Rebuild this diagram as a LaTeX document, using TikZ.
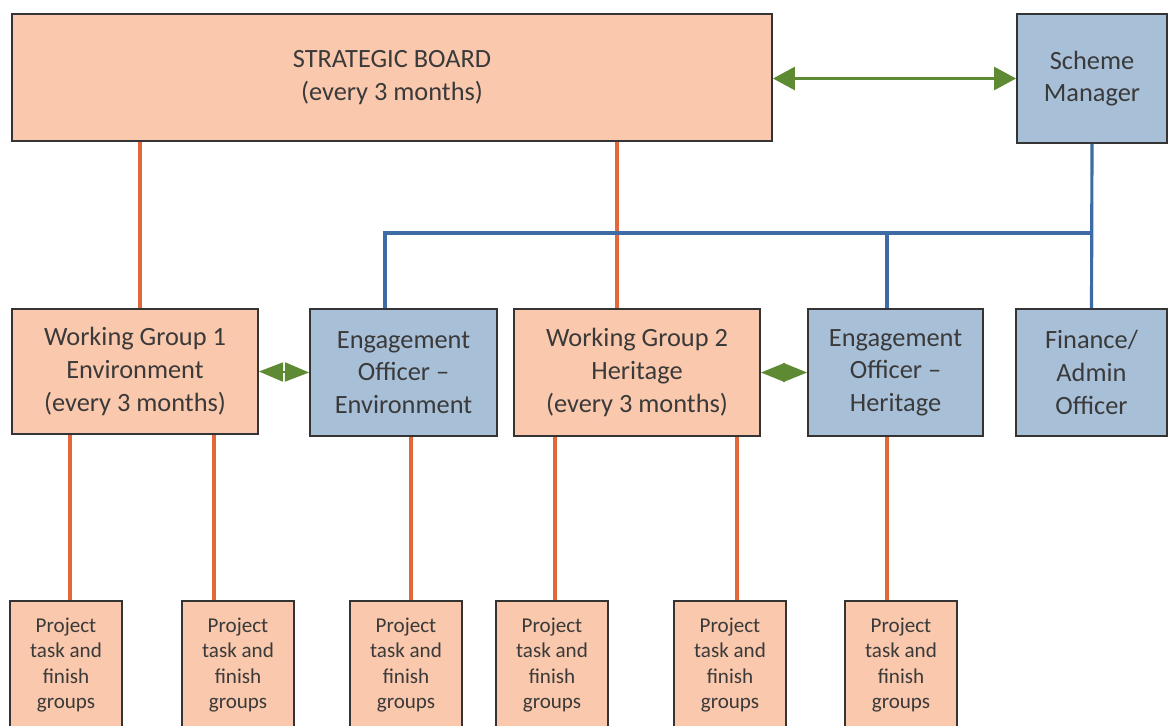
\documentclass[tikz,border=0pt]{standalone}
\usepackage{fontspec}
\setmainfont{Carlito}
\usetikzlibrary{arrows.meta}
\definecolor{peach}{HTML}{FAC8AC}
\definecolor{steel}{HTML}{A8BFD8}
\definecolor{rust}{HTML}{E2683C}
\definecolor{navy}{HTML}{3D6BA6}
\definecolor{leaf}{HTML}{5E8A33}
\definecolor{ink}{HTML}{3A3A3A}
\begin{document}
\begin{tikzpicture}[x=1cm,y=1cm,
  box/.style={draw=ink!90!black,line width=1.1pt,text=ink,align=center,
    inner sep=0pt,font=\fontsize{15}{18.6}\selectfont},
  board/.style={box,fill=peach},
  staff/.style={box,fill=steel},
  tfg/.style={board,minimum width=2.24cm,minimum height=2.56cm,
    font=\fontsize{12}{14.3}\selectfont},
  oline/.style={rust,line width=1.8pt},
  bline/.style={navy,line width=1.8pt},
  link/.style={leaf,line width=1.7pt,{Triangle[length=4.4mm,width=4.6mm]}-{Triangle[length=4.4mm,width=4.6mm]}},
  tie/.style={leaf,line width=1pt,{Triangle[length=4.8mm,width=3.8mm]}-{Triangle[length=4.8mm,width=3.8mm]}}]
\useasboundingbox (0,0) rectangle (23.38,-14.52);

% top row
\node[board,minimum width=15.2cm,minimum height=2.54cm] (sb) at (7.84,-1.55)
  {STRATEGIC BOARD\\(every 3 months)};
\node[staff,minimum width=3cm,minimum height=2.58cm] (sm) at (21.84,-1.57)
  {Scheme\\Manager};

% middle row
\node[board,minimum width=4.92cm,minimum height=2.5cm] (wg1) at (2.70,-7.43)
  {Working Group 1\\Environment\\(every 3 months)};
\node[staff,minimum width=3.74cm,minimum height=2.54cm] (eoe) at (8.07,-7.45)
  {Engagement\\Officer --\\Environment};
\node[board,minimum width=4.92cm,minimum height=2.54cm] (wg2) at (12.74,-7.45)
  {Working Group 2\\Heritage\\(every 3 months)};
\node[staff,minimum width=3.5cm,minimum height=2.54cm] (eoh) at (17.91,-7.45)
  {Engagement\\Officer --\\Heritage};
\node[staff,minimum width=3.02cm,minimum height=2.54cm] (fin) at (21.83,-7.45)
  {Finance/\\Admin\\Officer};

% task and finish groups
\foreach \name/\x in {tf1/1.32,tf2/4.76,tf3/8.12,tf4/11.04,tf5/14.60,tf6/18.02}
  \node[tfg] (\name) at (\x,-13.30) {Project\\task and\\finish\\groups};

% board links
\draw[oline] ([xshift=1mm]wg1.north) -- ([xshift=1mm]wg1.north |- sb.south);
\draw[oline] ([xshift=-4mm]wg2.north) -- ([xshift=-4mm]wg2.north |- sb.south);
\draw[link] (sb.east |- sm.west) -- (sm.west);

% staff lines
\coordinate (bus) at (0,-4.66);
\draw[bline] (sm.south) -- (fin.north);
\draw[bline] ([xshift=-3.7mm]eoe.north) -- ([xshift=-3.7mm]eoe.north |- bus) -- (sm.south |- bus);
\draw[bline] ([xshift=-1.7mm]eoh.north) -- ([xshift=-1.7mm]eoh.north |- bus);

% officer ties
\draw[tie] (wg1.east) -- (eoe.west);
\draw[tie] (wg2.east) -- (eoh.west);

% down to the groups
\draw[oline] ([xshift=0.8mm]tf1.north) -- ([xshift=0.8mm]tf1.north |- wg1.south);
\draw[oline] ([xshift=-4.8mm]tf2.north) -- ([xshift=-4.8mm]tf2.north |- wg1.south);
\draw[oline] ([xshift=1mm]tf3.north) -- ([xshift=1mm]tf3.north |- eoe.south);
\draw[oline] ([xshift=0.6mm]tf4.north) -- ([xshift=0.6mm]tf4.north |- wg2.south);
\draw[oline] ([xshift=1.4mm]tf5.north) -- ([xshift=1.4mm]tf5.north |- wg2.south);
\draw[oline] ([xshift=-2.8mm]tf6.north) -- ([xshift=-2.8mm]tf6.north |- eoh.south);
\end{tikzpicture}
\end{document}
